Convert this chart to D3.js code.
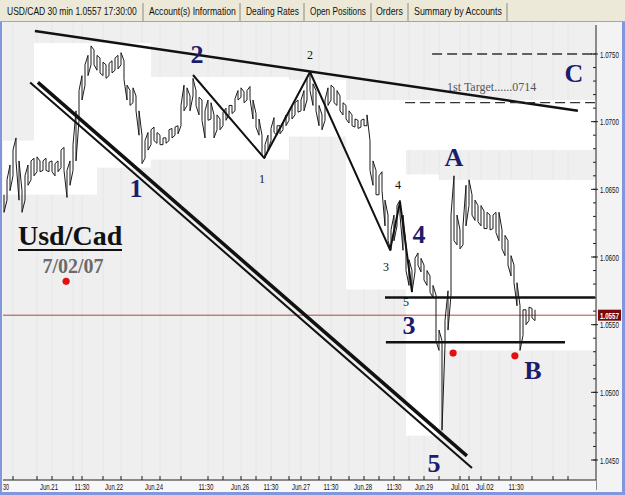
<!DOCTYPE html>
<html>
<head>
<meta charset="utf-8">
<script src="https://cdn.jsdelivr.net/npm/d3@7"></script>
<style>
body{margin:0;background:#fff}
svg{display:block}
</style>
</head>
<body>
<div class="container"></div>
<script>
// 30 min bars (every ~2.5 bars kept)
const highs = [1.0646,1.0657,1.0668,1.0679,1.0688,1.0671,1.0649,1.0660,1.0668,1.0671,
  1.0673,1.0674,1.0671,1.0671,1.0673,1.0670,1.0671,1.0669,1.0671,1.0679,
  1.0681,1.0664,1.0671,1.0683,1.0708,1.0723,1.0734,1.0742,1.0749,1.0756,
  1.0753,1.0749,1.0747,1.0744,1.0742,1.0743,1.0745,1.0747,1.0749,1.0751,
  1.0745,1.0727,1.0723,1.0725,1.0719,1.0708,1.0690,1.0686,1.0692,1.0694,
  1.0696,1.0692,1.0690,1.0688,1.0688,1.0694,1.0695,1.0696,1.0697,1.0712,
  1.0727,1.0725,1.0719,1.0732,1.0723,1.0718,1.0716,1.0708,1.0716,1.0714,
  1.0705,1.0705,1.0702,1.0707,1.0710,1.0712,1.0712,1.0717,1.0723,1.0725,
  1.0722,1.0723,1.0726,1.0716,1.0706,1.0702,1.0690,1.0683,1.0690,1.0695,
  1.0703,1.0697,1.0697,1.0699,1.0705,1.0708,1.0712,1.0714,1.0716,1.0716,
  1.0723,1.0732,1.0736,1.0728,1.0723,1.0712,1.0705,1.0716,1.0725,1.0727,
  1.0725,1.0723,1.0719,1.0714,1.0712,1.0708,1.0705,1.0702,1.0701,1.0701,
  1.0702,1.0705,1.0686,1.0671,1.0664,1.0660,1.0663,1.0642,1.0631,1.0620,
  1.0631,1.0638,1.0642,1.0631,1.0609,1.0598,1.0590,1.0599,1.0603,1.0599,
  1.0594,1.0590,1.0586,1.0579,1.0572,1.0546,1.0538,1.0553,1.0575,1.0631,
  1.0660,1.0631,1.0620,1.0623,1.0653,1.0657,1.0646,1.0642,1.0638,1.0638,
  1.0634,1.0633,1.0631,1.0631,1.0633,1.0633,1.0620,1.0616,1.0612,1.0601,
  1.0594,1.0581,1.0564,1.0561,1.0561,1.0563,1.0562,1.0561]
const lows = [1.0633,1.0642,1.0649,1.0660,1.0671,1.0642,1.0633,1.0642,1.0653,1.0657,
  1.0660,1.0663,1.0663,1.0664,1.0664,1.0663,1.0663,1.0660,1.0663,1.0666,
  1.0664,1.0644,1.0653,1.0664,1.0671,1.0701,1.0716,1.0727,1.0734,1.0742,
  1.0742,1.0738,1.0736,1.0734,1.0732,1.0734,1.0736,1.0738,1.0739,1.0742,
  1.0731,1.0716,1.0712,1.0714,1.0708,1.0690,1.0669,1.0673,1.0679,1.0683,
  1.0686,1.0684,1.0683,1.0683,1.0684,1.0686,1.0688,1.0690,1.0691,1.0697,
  1.0708,1.0712,1.0708,1.0719,1.0712,1.0705,1.0701,1.0688,1.0701,1.0702,
  1.0688,1.0694,1.0694,1.0697,1.0701,1.0705,1.0706,1.0708,1.0716,1.0718,
  1.0714,1.0716,1.0717,1.0702,1.0696,1.0690,1.0675,1.0673,1.0679,1.0686,
  1.0692,1.0690,1.0691,1.0694,1.0697,1.0701,1.0702,1.0705,1.0707,1.0708,
  1.0708,1.0716,1.0723,1.0712,1.0708,1.0697,1.0694,1.0701,1.0712,1.0716,
  1.0714,1.0712,1.0708,1.0705,1.0702,1.0699,1.0697,1.0696,1.0695,1.0696,
  1.0697,1.0697,1.0664,1.0653,1.0646,1.0646,1.0649,1.0623,1.0612,1.0605,
  1.0612,1.0623,1.0631,1.0605,1.0590,1.0579,1.0574,1.0589,1.0594,1.0589,
  1.0583,1.0579,1.0574,1.0570,1.0538,1.0531,1.0472,1.0535,1.0546,1.0572,
  1.0612,1.0609,1.0606,1.0609,1.0623,1.0638,1.0631,1.0627,1.0626,1.0623,
  1.0621,1.0621,1.0620,1.0621,1.0618,1.0612,1.0606,1.0601,1.0594,1.0586,
  1.0581,1.0564,1.0531,1.0542,1.0550,1.0553,1.0555,1.0553]

const timeLabels = ["30","Jun.21","11:30","Jun.22","Jun.24","11:30","Jun.26","11:30","Jun.27","11:30","Jun.28","11:30","Jun.29","Jul.01","Jul.02","11:30"]
const timeLabelBars = [0.7,15,26,36.7,50,67.3,78.7,89,99,109,119.7,130,140,152,160.3,170.7]
const timeTickBars = [3,11,16,23,26,33,39,46,52,59,68,73,79,84,89,95,99,105,109,115,120,125,130,135,140,145,152,155,159,165,169,176,183,188]
const priceLabels = ["1.0450","1.0500","1.0550","1.0600","1.0650","1.0700","1.0750"]
const lastPrice = 1.0557
const lastLabel = "1.0557"

// annotations in [bar, price]
const topTrend = [[10.3,1.0767],[191.3,1.0708]]
const channelThin = [[8.7,1.0729],[156,1.0444]]
const channelThick = [[11.3,1.0729],[154.3,1.0453]]
const wavePath = [[63,1.07345],[86.7,1.06732],[102,1.07367],[128.7,1.06052],[132,1.06407],[136,1.05742]]
const levelLines = [[127,197,1.0570],[127.3,187,1.0537]]
const targetLines = [[142.7,197,1.0750],[133.7,197,1.0714]]
const bigLabels = [["2",64.3,1.0743],["1",44,1.0644],["4",138.3,1.0610],["3",135,1.0543],["5",143.3,1.0441],["A",150,1.0667],["B",176.3,1.0510],["C",190,1.0729]]
const smallLabels = [["2",102,1.0746],["1",86,1.0655],["4",131.3,1.0650],["3",127.3,1.0590],["5",134,1.0564]]
const redDots = [[20.7,1.0582],[149.7,1.0529],[170.3,1.0527]]
const targetText = ["1st Target......0714",147.7,1.0723]
const whiteAreas = [[10,49,1.0758,1.0666],[-2,31,1.0686,1.0646],[47,95,1.0733,1.0672],[95,114,1.0731,1.0689],
  [114,134,1.0716,1.0576],[134,145,1.0661,1.0468],[142,198,1.0657,1.0531],[134,198,1.0716,1.0679]]

const tabs = ["USD/CAD 30 min 1.0557 17:30:00","Account(s) Information","Dealing Rates","Open Positions","Orders","Summary by Accounts"]
const tabStart = [7,149,246,310,376,414]
const tabWidth = [130,87,53,56,27,88]
const tabSep = [143,240,304,371,408,507]

const W = 625, H = 495
const pLeft = 3, pRight = 596, pTop = 22, pBottom = 480

const svg = d3.select(".container")
              .append("svg")
              .attr("width", W)
              .attr("height", H)
              .style("font-family", "'Liberation Sans', Arial, sans-serif")

const x = d3.scaleLinear().domain([0, 197]).range([4, 595])
const y = d3.scaleLinear().domain([1.045, 1.075]).range([460, 54])

// squeeze a text horizontally to a given width (the original uses a narrow pixel font)
const narrowText = (parent, str, px, py, width, size, anchor)=>{
    const t = parent.append("text").attr("x", 0).attr("y", 0)
                    .style("font-size", size+"px").text(str)
    const nat = t.node().getComputedTextLength()
    const k = Math.min(1, width / nat)
    const x0 = anchor === "middle" ? px - width/2 : px
    t.attr("transform", `translate(${x0},${py}) scale(${k},1)`)
    return t
}

// window frame
svg.append("rect").attr("width", W).attr("height", H).attr("fill", "#f3f3f3")
svg.append("rect").attr("x", pLeft).attr("y", pTop).attr("width", pRight-pLeft).attr("height", pBottom-pTop).attr("fill", "#efefef")

const defs = svg.append("defs")
defs.append("clipPath").attr("id", "plot")
    .append("rect").attr("x", pLeft).attr("y", pTop).attr("width", pRight-pLeft).attr("height", pBottom-pTop)

const plot = svg.append("g").attr("clip-path", "url(#plot)")

// faint vertical lines in the background
plot.selectAll(".vgrid")
    .data(timeTickBars)
    .enter()
    .append("line")
    .attr("x1", d=>x(d)).attr("x2", d=>x(d))
    .attr("y1", pTop).attr("y2", pBottom)
    .attr("stroke", "#e6e6e6")

plot.selectAll(".white")
    .data(whiteAreas)
    .enter()
    .append("rect")
    .attr("x", d=>x(d[0]))
    .attr("width", d=>x(d[1])-x(d[0]))
    .attr("y", d=>y(d[2]))
    .attr("height", d=>y(d[3])-y(d[2]))
    .attr("fill", "#ffffff")

// last price line
plot.append("line")
    .attr("x1", pLeft).attr("x2", pRight)
    .attr("y1", y(lastPrice)).attr("y2", y(lastPrice))
    .attr("stroke", "#b04a40").attr("stroke-width", 1)

// price bars drawn as a continuous high/low zigzag
const pts = []
highs.forEach((h, i)=>{
    if(i % 2 === 0){
        pts.push([x(i), y(h)], [x(i), y(lows[i])])
    }else{
        pts.push([x(i), y(lows[i])], [x(i), y(h)])
    }
})
plot.append("path")
    .attr("d", d3.line()(pts))
    .attr("fill", "none")
    .attr("stroke", "#1a1a1a")
    .attr("stroke-width", 1)

const line = d3.line().x(d=>x(d[0])).y(d=>y(d[1]))

plot.append("path").attr("d", line(topTrend)).attr("stroke", "#111").attr("stroke-width", 2.5).attr("fill", "none")
plot.append("path").attr("d", line(channelThin)).attr("stroke", "#111").attr("stroke-width", 2).attr("fill", "none")
plot.append("path").attr("d", line(channelThick)).attr("stroke", "#111").attr("stroke-width", 3.5).attr("fill", "none")
plot.append("path").attr("d", line(wavePath)).attr("stroke", "#111").attr("stroke-width", 2).attr("fill", "none").attr("stroke-linejoin", "round")

plot.selectAll(".level")
    .data(levelLines)
    .enter()
    .append("line")
    .attr("x1", d=>x(d[0])).attr("x2", d=>x(d[1]))
    .attr("y1", d=>y(d[2])).attr("y2", d=>y(d[2]))
    .attr("stroke", "#111").attr("stroke-width", 2.5)

plot.selectAll(".target")
    .data(targetLines)
    .enter()
    .append("line")
    .attr("x1", d=>x(d[0])).attr("x2", d=>x(d[1]))
    .attr("y1", d=>y(d[2])).attr("y2", d=>y(d[2]))
    .attr("stroke", "#333").attr("stroke-width", 1.3)
    .attr("stroke-dasharray", "10,5")

plot.selectAll(".dot")
    .data(redDots)
    .enter()
    .append("circle")
    .attr("cx", d=>x(d[0])).attr("cy", d=>y(d[1]))
    .attr("r", 3.6)
    .attr("fill", "#e21010")

plot.selectAll(".big")
    .data(bigLabels)
    .enter()
    .append("text")
    .attr("x", d=>x(d[1])).attr("y", d=>y(d[2]))
    .attr("text-anchor", "middle")
    .style("font-family", "'Liberation Serif', 'Times New Roman', serif")
    .style("font-weight", "bold")
    .style("font-size", "26px")
    .attr("fill", "#1c1c6c")
    .text(d=>d[0])

plot.selectAll(".small")
    .data(smallLabels)
    .enter()
    .append("text")
    .attr("x", d=>x(d[1])).attr("y", d=>y(d[2]))
    .attr("text-anchor", "middle")
    .style("font-family", "'Liberation Serif', 'Times New Roman', serif")
    .style("font-size", "12px")
    .attr("fill", "#111")
    .text(d=>d[0])

plot.append("text")
    .attr("x", x(targetText[1])).attr("y", y(targetText[2]))
    .style("font-family", "'Liberation Serif', 'Times New Roman', serif")
    .style("font-size", "12px")
    .attr("fill", "#555")
    .text(targetText[0])

// title block
plot.append("text")
    .attr("x", 18).attr("y", 245)
    .style("font-family", "'Liberation Serif', 'Times New Roman', serif")
    .style("font-weight", "bold")
    .style("font-size", "28px")
    .attr("fill", "#111")
    .text("Usd/Cad")
plot.append("line")
    .attr("x1", 18).attr("x2", 122).attr("y1", 250).attr("y2", 250)
    .attr("stroke", "#111").attr("stroke-width", 2)
plot.append("text")
    .attr("x", 73).attr("y", 273)
    .attr("text-anchor", "middle")
    .style("font-family", "'Liberation Serif', 'Times New Roman', serif")
    .style("font-weight", "bold")
    .style("font-size", "20px")
    .attr("fill", "#6b6b6b")
    .text("7/02/07")

// right price axis
svg.append("line").attr("x1", pRight).attr("x2", pRight).attr("y1", pTop+3).attr("y2", 490).attr("stroke", "#222")
svg.selectAll(".ptick")
    .data(y.ticks(30))
    .enter()
    .append("line")
    .attr("x1", pRight-3).attr("x2", pRight)
    .attr("y1", d=>y(d)).attr("y2", d=>y(d))
    .attr("stroke", "#222")
const yAxisG = svg.append("g")
priceLabels.forEach(d=>{
    yAxisG.append("line").attr("x1", pRight-5).attr("x2", pRight+2).attr("y1", y(+d)).attr("y2", y(+d)).attr("stroke", "#222")
    narrowText(yAxisG, d, pRight+4, y(+d)+3.5, 19, 9, "start").attr("fill", "#111")
})
svg.append("rect").attr("x", pRight+2).attr("y", y(lastPrice)-5.5).attr("width", 23).attr("height", 11).attr("fill", "#7a0a0a")
narrowText(svg, lastLabel, pRight+4, y(lastPrice)+3.5, 19, 9, "start")
    .style("font-weight", "bold").attr("fill", "#fff")

// bottom time axis
svg.append("rect").attr("x", pLeft).attr("y", pBottom).attr("width", pRight-pLeft).attr("height", 12).attr("fill", "#f7f7f7")
svg.append("line").attr("x1", pLeft).attr("x2", pRight).attr("y1", pBottom).attr("y2", pBottom).attr("stroke", "#222")
svg.selectAll(".ttick")
    .data(timeTickBars)
    .enter()
    .append("line")
    .attr("x1", d=>x(d)).attr("x2", d=>x(d))
    .attr("y1", pBottom-4).attr("y2", pBottom)
    .attr("stroke", "#222")
const xAxisG = svg.append("g")
timeLabels.forEach((d, i)=>{
    narrowText(xAxisG, d, x(timeLabelBars[i]), 490, d.length*3, 9.5, "middle").attr("fill", "#111")
})

// tab strip
svg.append("rect").attr("width", W).attr("height", pTop).attr("fill", "#ece9d8")
svg.append("line").attr("x1", 0).attr("x2", W).attr("y1", pTop-0.5).attr("y2", pTop-0.5).attr("stroke", "#a8a69a")
svg.selectAll(".tabsep")
    .data(tabSep)
    .enter()
    .append("line")
    .attr("x1", d=>d).attr("x2", d=>d)
    .attr("y1", 3).attr("y2", pTop-1)
    .attr("stroke", "#8c8a80")
const tabG = svg.append("g")
tabs.forEach((d, i)=>{
    narrowText(tabG, d, tabStart[i], 15, tabWidth[i], 10, "start").attr("fill", "#111")
})

// blue window border
svg.append("rect").attr("x", 0).attr("y", pTop).attr("width", 2).attr("height", H-pTop).attr("fill", "#8196dc")
svg.append("rect").attr("x", W-3).attr("y", pTop).attr("width", 3).attr("height", H-pTop).attr("fill", "#8196dc")
svg.append("rect").attr("x", 0).attr("y", H-3).attr("width", W).attr("height", 3).attr("fill", "#8196dc")
</script>
</body>
</html>
